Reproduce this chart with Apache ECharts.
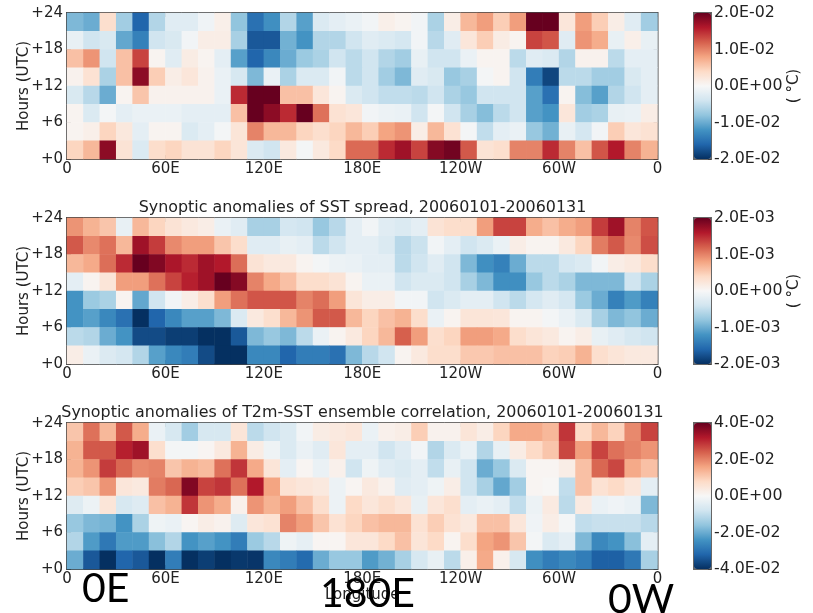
<!DOCTYPE html>
<html><head><meta charset="utf-8">
<style>html,body{margin:0;padding:0;background:#fff}#c{width:813px;height:613px}</style>
<script src="https://cdn.jsdelivr.net/npm/echarts@6/dist/echarts.min.js"></script>
</head><body><div id="c"></div>
<script>
// Cell values as a fraction of each panel's colour-bar limit; rows run top (+21..24 h) to bottom (+0..3 h), columns 0E eastwards in 10 degree bins.
const t2mSpread = [
[-.45,-.5,.17,-.35,-.8,-.3,-.12,-.12,-.04,.06,-.4,-.75,-.62,-.3,-.55,-.15,-.1,-.07,-.03,.06,.03,-.03,-.32,.07,.33,.42,.25,.42,1,1,.12,.42,.25,.07,-.12,-.35],
[-.08,-.2,-.16,-.52,-.68,-.2,-.16,-.03,.07,.07,-.33,-.85,-.85,-.48,-.6,-.3,-.3,-.2,-.12,-.15,-.18,-.03,-.28,-.12,.12,.25,.08,.03,.68,.63,-.12,.45,.37,-.08,.06,-.08],
[.3,.45,-.2,.3,.68,.03,-.12,.08,.03,-.1,-.55,-.8,-.65,-.5,-.37,-.32,-.2,-.27,-.2,-.3,-.35,-.08,-.2,-.2,-.07,.03,.03,-.27,-.12,-.15,-.3,.04,.04,-.27,-.1,-.1],
[.04,.15,-.32,.3,.9,.25,.07,.12,.04,-.07,-.17,-.45,-.07,-.32,-.15,-.15,-.03,-.27,-.2,-.35,-.45,-.12,-.16,-.38,-.33,-.02,.03,-.2,-.7,-.92,-.27,-.27,-.35,-.35,-.16,-.1],
[-.16,-.28,-.5,.03,.28,.04,.04,.04,.04,-.07,.75,1,1,.3,.3,.12,.03,-.15,-.2,-.25,-.25,-.27,-.2,-.32,-.38,-.2,-.2,-.2,-.55,-.75,.03,-.43,-.55,-.3,-.2,-.1],
[.03,-.15,-.02,-.1,-.07,-.07,-.07,-.1,-.1,-.1,.3,1,.9,.75,1,.55,.15,.12,-.03,-.06,-.07,-.2,-.02,-.2,-.33,-.43,-.27,-.2,-.55,-.6,.12,-.35,-.32,-.08,-.07,.07],
[.03,.06,.22,.11,-.1,.03,.03,-.15,-.1,-.02,.13,.5,.33,.33,.22,.17,.22,.33,.25,.4,.45,.07,.33,.15,-.02,-.25,-.1,-.07,-.38,-.48,-.08,-.18,-.03,.25,.12,.15],
[.22,.33,.9,.14,-.15,.18,.22,.14,.14,.22,.13,-.15,-.2,.1,-.02,.1,.2,.57,.57,.75,.85,.68,.92,.97,.62,.14,.17,.5,.5,.75,.5,.3,.63,.8,.5,.35]
];
const sstSpread = [
[.45,.35,.28,-.08,.33,.22,.14,.1,.07,-.07,-.12,-.33,-.33,-.18,-.2,-.38,-.28,-.1,-.03,-.12,-.15,-.1,.14,.18,.18,.42,.68,.68,.37,.3,.37,.42,.7,.85,.5,.63],
[.62,.48,.55,.33,.85,.7,.48,.42,.42,.28,.18,-.12,-.12,-.08,-.1,-.27,-.2,-.1,-.1,-.15,-.28,-.22,-.03,-.1,-.2,-.15,-.07,.07,.03,.03,.1,.22,.52,.62,.48,.65],
[.33,.38,.56,.75,1,.93,.82,.75,.85,.8,.56,.14,.1,.1,.03,-.02,-.06,-.07,-.1,-.1,-.27,-.2,-.12,-.2,-.45,-.62,-.68,-.5,-.27,-.27,-.18,-.15,-.03,.07,.1,.18],
[-.1,.03,.13,.42,.42,.55,.68,.78,.85,1,.92,.5,.38,.3,.18,.18,.14,.03,-.07,-.07,-.2,-.15,-.15,-.2,-.33,-.45,-.62,-.62,-.38,-.27,-.32,-.45,-.45,-.45,-.2,-.32],
[-.6,-.37,-.32,.03,-.52,-.2,-.03,.07,.17,.42,.55,.63,.63,.63,.5,.56,.42,.13,.07,.07,-.03,-.03,-.2,-.15,-.1,-.1,-.2,-.27,-.18,-.12,-.18,-.37,-.5,-.68,-.57,-.68],
[-.6,-.55,-.65,-.75,-1,-.8,-.65,-.55,-.55,-.45,-.15,.1,.17,.33,.45,.62,.62,.33,.22,.3,.35,.18,-.07,.03,.13,.13,.12,.03,.03,-.02,-.07,-.15,-.33,-.45,-.4,-.5],
[-.27,-.3,-.5,-.6,-.9,-.9,-.95,-.95,-1,-1,-.85,-.45,-.38,-.45,-.27,-.07,.03,.1,.22,.33,.6,.42,.17,.22,.42,.42,.38,.18,.13,.1,.03,.07,-.08,-.12,-.17,-.2],
[.07,-.07,-.14,-.18,-.3,-.55,-.65,-.7,-.9,-1,-1,-.65,-.65,-.8,-.7,-.7,-.75,-.45,-.28,-.2,.03,.1,.18,.18,.27,.27,.3,.3,.3,.23,.25,.35,.17,.13,.1,.1]
];
const t2mSstCorr = [
[.28,.55,.33,.62,.37,-.07,-.17,-.35,-.17,-.17,.13,-.27,-.2,-.15,-.03,.08,.1,.12,-.07,.05,.07,.25,.04,.04,.13,.07,.22,.38,.38,.33,.72,.2,.33,.23,.48,.68],
[.35,.62,.62,.78,.85,.17,-.02,-.02,.02,.1,.35,.08,-.05,-.15,-.07,-.12,.12,-.1,-.1,-.2,-.12,-.03,-.3,-.15,-.07,-.3,-.08,.08,.2,.28,.67,.42,.68,.55,.5,.45],
[.35,.45,.7,.58,.48,.5,.28,.35,.32,.55,.72,.38,.13,-.1,.02,-.07,.05,-.2,-.05,-.12,-.15,-.1,-.25,-.08,-.2,-.5,-.38,-.15,.02,.02,.07,.3,.58,.67,.38,.3],
[.25,.28,.45,.12,.1,.52,.58,.93,.68,.72,.55,.8,.4,.15,.12,.1,-.06,.02,.1,.04,-.12,-.1,-.05,.07,-.2,-.33,-.52,-.35,.02,.01,-.25,.3,.15,.2,.12,-.1],
[-.13,-.06,.13,-.17,-.13,.3,.35,.72,.45,.37,.05,.45,.35,.42,.3,.17,-.06,.2,.12,.17,.12,-.08,.12,.17,-.1,-.07,-.1,-.25,-.06,.09,-.27,.09,-.07,-.04,-.07,-.45],
[-.38,-.45,-.47,-.6,-.32,-.05,-.07,.02,.07,.04,-.13,.12,.15,.5,.42,.28,.15,.22,.3,.33,.33,.15,.25,.15,.1,.3,.3,.12,-.04,.07,-.02,-.25,-.23,-.23,-.23,-.28],
[-.3,-.57,-.72,-.57,-.57,-.42,-.3,-.6,-.55,-.6,-.7,-.37,-.28,-.05,-.09,.02,.02,.12,.12,.2,.3,.13,.2,.03,.18,.4,.45,.28,-.02,-.15,-.1,-.45,-.65,-.6,-.42,-.1],
[-.5,-.85,-1,-.8,-.85,-1,-.7,-1,-.95,-1,-.97,-.98,-.65,-.7,-.78,-.5,-.38,-.38,-.57,-.48,-.33,-.17,-.08,-.27,.06,.38,.05,-.17,-.62,-.7,-.65,-.7,-.82,-.82,-.72,-.33]
];
const colourLimits = [2e-2, 2e-3, 4e-2];
const panelTitles = ['', 'Synoptic anomalies of SST spread, 20060101-20060131', 'Synoptic anomalies of T2m-SST ensemble correlation, 20060101-20060131'];
const lonTicks = ['0','60E','120E','180E','120W','60W','0'];
const hourTicks = ['+0','+6','+12','+18','+24'];
const overlayLabels = ['0E','180E','0W'];
const rdbu = ['#053061','#2166ac','#4393c3','#92c5de','#d1e5f0','#f7f7f7','#fddbc7','#f4a582','#d6604d','#b2182b','#67001f'];
const panels = [t2mSpread, sstSpread, t2mSstCorr];

const FONT = '"DejaVu Sans"', INK = '#222', FS = 15;
const tops = [13, 218, 423], H = 146, LEFT = 67, W = 590.5;
const grid = [], xAxis = [], yAxis = [], series = [], visualMap = [], title = [];
const tickStyle = {show:true, inside:true, length:4, lineStyle:{color:INK, width:1}};
const noLine = {show:false};
const xCats = panels[0][0].map((_, i) => String(i * 10));
const yCats = panels[0].map((_, i) => String(i * 3));

panels.forEach((rows, p) => {
  const g = p * 2, lim = colourLimits[p];
  grid.push({left:LEFT, top:tops[p], width:W, height:H, show:true, borderColor:'#444', borderWidth:2, backgroundColor:'transparent', outerBoundsMode:'none'});
  grid.push({left:694, top:tops[p], width:17, height:H, show:true, borderColor:'#666', borderWidth:2, backgroundColor:'transparent', outerBoundsMode:'none'});
  const xCat = xAxis.length, yCat = yAxis.length;
  xAxis.push({type:'category', gridIndex:g, data:xCats, show:false, position:'bottom'});
  yAxis.push({type:'category', gridIndex:g, data:yCats, show:false, position:'left'});
  xAxis.push({type:'value', gridIndex:g, position:'bottom', min:0, max:360, interval:60, splitLine:noLine, axisLine:noLine, axisTick:tickStyle,
    axisLabel:{color:INK, fontFamily:FONT, fontSize:FS, margin:3, formatter:v => lonTicks[v / 60]},
    name:p === 2 ? 'Longitude' : '', nameLocation:'middle', nameGap:19, nameMoveOverlap:false, nameTextStyle:{color:INK, fontFamily:FONT, fontSize:FS}});
  xAxis.push({type:'value', gridIndex:g, position:'top', min:0, max:360, interval:60, splitLine:noLine, axisLine:noLine, axisTick:tickStyle, axisLabel:noLine});
  yAxis.push({type:'value', gridIndex:g, position:'left', min:0, max:24, interval:6, splitLine:noLine, axisLine:noLine, axisTick:tickStyle,
    axisLabel:{color:INK, fontFamily:FONT, fontSize:FS, margin:4, formatter:v => hourTicks[v / 6]},
    name:'Hours (UTC)', nameLocation:'middle', nameRotate:90, nameGap:35, nameMoveOverlap:false, nameTextStyle:{color:INK, fontFamily:FONT, fontSize:FS}});
  yAxis.push({type:'value', gridIndex:g, position:'right', min:0, max:24, interval:6, splitLine:noLine, axisLine:noLine, axisTick:tickStyle, axisLabel:noLine});
  const data = [];
  rows.forEach((row, r) => row.forEach((f, c) => data.push([c, rows.length - 1 - r, f * lim])));
  series.push({type:'heatmap', xAxisIndex:xCat, yAxisIndex:yCat, data, animation:false, silent:true, progressive:0});
  visualMap.push({type:'continuous', seriesIndex:series.length - 1, min:-lim, max:lim, left:694, top:tops[p], itemWidth:17, itemHeight:H,
    padding:0, text:['',''], showLabel:false, calculable:false, hoverLink:false, realtime:false, inRange:{color:rdbu}});
  // colour bar scale
  xAxis.push({type:'category', gridIndex:g + 1, data:[''], show:false});
  yAxis.push({type:'value', gridIndex:g + 1, position:'right', min:-lim, max:lim, interval:lim / 2, splitLine:noLine, axisLine:noLine,
    axisTick:{show:true, inside:true, length:3, lineStyle:{color:'#444'}},
    axisLabel:{color:INK, fontFamily:FONT, fontSize:15.8, margin:3,
      formatter:v => { const m = (+v).toExponential(1).split('e'); return m[0] + 'E' + m[1][0] + m[1].slice(1).padStart(2,'0'); }},
    name:p < 2 ? '( \u00b0C)' : '', nameLocation:'middle', nameRotate:90, nameGap:76, nameMoveOverlap:false, nameTextStyle:{color:INK, fontFamily:FONT, fontSize:FS}});
  series.push({type:'line', xAxisIndex:xAxis.length - 1, yAxisIndex:yAxis.length - 1, data:[], silent:true});
  if (panelTitles[p]) title.push({text:panelTitles[p], left:362.5, top:tops[p] - 18, textAlign:'center', padding:0,
    textStyle:{color:INK, fontFamily:FONT, fontSize:15.9, fontWeight:'normal'}});
});

const big = {fontFamily:'Lato', fontSize:41, fill:'#000'};
const chart = echarts.init(document.getElementById('c'), null, {renderer:'canvas'});
chart.setOption({
  animation:false, backgroundColor:'#fff', tooltip:{show:false},
  title, grid, xAxis, yAxis, series, visualMap,
  graphic:[
    {type:'text', left:82, top:568, z:100, style:{text:overlayLabels[0], ...big}},
    {type:'text', left:320, top:573, z:100, style:{text:overlayLabels[1], ...big}},
    {type:'text', left:608, top:579, z:100, style:{text:overlayLabels[2], ...big}}
  ]
});
</script></body></html>
